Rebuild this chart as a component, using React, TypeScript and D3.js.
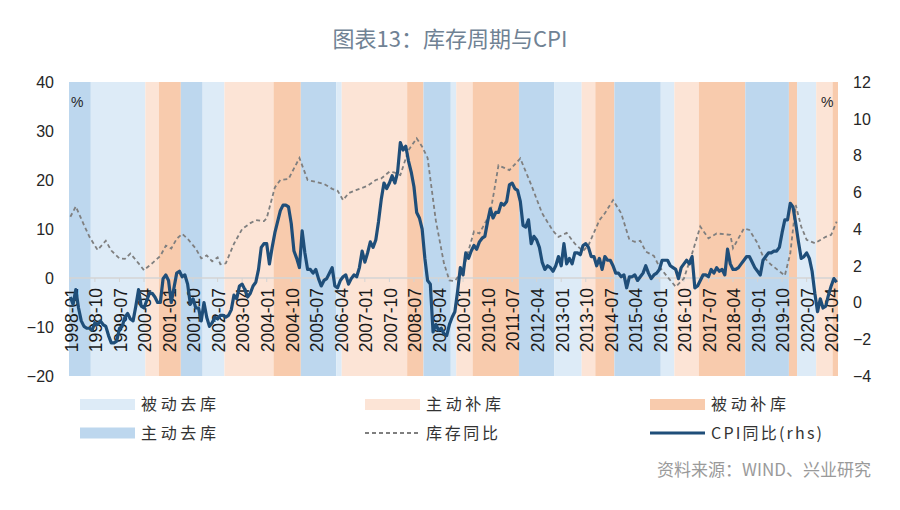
import React, { useRef, useEffect } from "react";
import * as d3 from "d3";

// CPI YoY (%), monthly 1998-01 .. 2021-06 (right axis)
const cpiValues = [
  0.3, -0.1, 0.7, -0.3, -1.0, -1.3, -1.4, -1.4, -1.5, -1.1, -1.2, -1.0,
  -1.2, -1.3, -1.8, -2.2, -2.2, -2.1, -1.4, -1.3, -0.8, -0.6, -0.9, -1.0,
  -0.2, 0.7, -0.2, -0.3, 0.1, 0.5, 0.5, 0.3, 0.0, 0.0, 1.3, 1.5,
  1.2, 0.0, 0.8, 1.6, 1.7, 1.4, 1.5, 1.0, -0.1, 0.2, -0.3, -0.3,
  -1.0, 0.0, -0.8, -1.3, -1.1, -0.8, -0.9, -0.7, -0.7, -0.8, -0.7, -0.4,
  0.4, 0.2, 0.9, 1.0, 0.7, 0.3, 0.5, 0.9, 1.1, 1.8, 3.0, 3.2,
  3.2, 2.1, 3.0, 3.8, 4.4, 5.0, 5.3, 5.3, 5.2, 4.3, 2.8, 2.4,
  1.9, 3.9, 2.7, 1.8, 1.8, 1.6, 1.8, 1.3, 0.9, 1.2, 1.3, 1.6,
  1.9, 0.9, 0.8, 1.2, 1.4, 1.5, 1.0, 1.3, 1.5, 1.4, 1.9, 2.8,
  2.2, 2.7, 3.3, 3.0, 3.4, 4.4, 5.6, 6.5, 6.2, 6.5, 6.9, 6.5,
  7.1, 8.7, 8.3, 8.5, 7.7, 7.1, 6.3, 4.9, 4.6, 4.0, 2.4, 1.2,
  1.0, -1.6, -1.2, -1.5, -1.4, -1.7, -1.8, -1.2, -0.8, -0.5, 0.6, 1.9,
  1.5, 2.7, 2.4, 2.8, 3.1, 2.9, 3.3, 3.5, 3.6, 4.4, 5.1, 4.6,
  4.9, 4.9, 5.4, 5.3, 5.5, 6.4, 6.5, 6.2, 6.1, 5.5, 4.2, 4.1,
  4.5, 3.2, 3.6, 3.4, 3.0, 2.2, 1.8, 2.0, 1.9, 1.7, 2.0, 2.5,
  2.0, 3.2, 2.1, 2.4, 2.1, 2.7, 2.7, 2.6, 3.1, 3.2, 3.0, 2.5,
  2.5, 2.0, 2.4, 1.8, 2.5, 2.3, 2.3, 2.0, 1.6, 1.6, 1.4, 1.5,
  0.8, 1.4, 1.4, 1.5, 1.2, 1.4, 1.6, 2.0, 1.6, 1.3, 1.5, 1.6,
  1.8, 2.3, 2.3, 2.3, 2.0, 1.9, 1.8, 1.3, 1.9, 2.1, 2.3, 2.1,
  2.5, 0.8, 0.9, 1.2, 1.5, 1.5, 1.4, 1.8, 1.6, 1.9, 1.7, 1.8,
  1.5, 2.9, 2.1, 1.8, 1.8, 1.9, 2.1, 2.3, 2.5, 2.5, 2.2, 1.9,
  1.7, 1.5, 2.3, 2.5, 2.7, 2.7, 2.8, 2.8, 3.0, 3.8, 4.5, 4.5,
  5.4, 5.2, 4.3, 3.3, 2.4, 2.5, 2.7, 2.4, 1.7, 0.5, -0.5, 0.2,
  -0.3, -0.2, 0.4, 0.9, 1.3, 1.1,
];

// inventory YoY (%) (left axis)
const invDates = [
  "1998-01", "1998-03", "1998-06", "1998-08", "1998-11", "1999-02", "1999-04", "1999-07", "1999-09", "1999-11",
  "2000-02", "2000-04", "2000-07", "2000-10", "2000-12", "2001-02", "2001-04", "2001-06", "2001-08", "2001-11",
  "2002-01", "2002-03", "2002-05", "2002-07", "2002-08", "2002-10", "2003-01", "2003-04", "2003-07", "2003-09",
  "2003-12", "2004-01", "2004-04", "2004-06", "2004-09", "2005-01", "2005-04", "2005-07", "2005-10", "2006-01",
  "2006-03", "2006-05", "2006-07", "2006-10", "2007-02", "2007-05", "2007-07", "2007-10", "2007-12", "2008-02",
  "2008-05", "2008-08", "2008-10", "2008-12", "2009-03", "2009-06", "2009-08", "2009-10", "2010-01", "2010-05",
  "2010-07", "2010-11", "2011-02", "2011-06", "2011-10", "2012-02", "2012-06", "2012-10", "2012-12", "2013-03",
  "2013-06", "2013-09", "2013-11", "2014-03", "2014-05", "2014-08", "2014-11", "2015-02", "2015-04", "2015-06",
  "2015-08", "2015-11", "2016-01", "2016-04", "2016-07", "2016-10", "2017-01", "2017-04", "2017-07", "2017-10",
  "2018-03", "2018-04", "2018-08", "2018-10", "2019-01", "2019-03", "2019-06", "2019-11", "2020-01", "2020-03",
  "2020-05", "2020-07", "2020-10", "2021-02", "2021-04", "2021-06",
];
const invValues = [
  12.5, 14.6, 10.8, 8.4, 5.7, 7.6, 5.6, 4.0, 3.9, 5.0,
  3.0, 1.6, 3.0, 4.5, 6.6, 6.0, 8.0, 9.0, 8.0, 6.0,
  4.0, 4.6, 3.4, 4.2, 2.8, 3.0, 7.0, 10.0, 11.2, 11.8,
  11.6, 12.2, 18.5, 20.0, 20.2, 24.5, 20.0, 19.6, 19.2, 18.2,
  17.8, 15.9, 17.3, 18.0, 18.8, 20.0, 20.3, 21.7, 21.5, 21.0,
  26.1, 28.5, 26.8, 24.5, 11.8, 3.0, -0.5, -0.6, 1.6, 9.5,
  9.1, 13.2, 23.0, 22.0, 24.4, 19.0, 13.2, 9.6, 8.4, 9.2,
  7.0, 5.5, 6.7, 11.8, 13.2, 15.9, 13.2, 7.8, 7.4, 7.6,
  5.4, 4.5, 2.3, 0.2, -1.8, -0.1, 5.0, 10.5, 8.1, 9.1,
  8.8, 6.1, 10.1, 9.8, 7.1, 4.4, 2.7, 0.5, 5.0, 14.9,
  10.5, 7.8, 7.1, 8.4, 8.8, 11.5,
];

// inventory cycle phases: start month of each phase
const bandStart = [
  "1998-01", "1998-09", "2000-05", "2000-10", "2001-06", "2002-02", "2002-10", "2004-04", "2005-02", "2006-03",
  "2006-05", "2008-05", "2008-11", "2009-09", "2009-11", "2010-05", "2011-10", "2012-11", "2013-09", "2014-02",
  "2014-09", "2016-02", "2016-07", "2017-04", "2018-09", "2020-01", "2020-04", "2020-11", "2021-05",
];
const bandKind = [
  "AD", "PD", "AR", "PR", "AD", "PD", "AR", "PR", "AD", "PD",
  "AR", "PR", "AD", "PD", "AR", "PR", "AD", "PD", "AR", "PR",
  "AD", "PD", "AR", "PR", "AD", "PR", "PD", "AR", "PR",
];
const lastMonth = "2021-06";

const kindColor = { PD: "#DDEBF7", AD: "#BDD7EE", AR: "#FCE4D6", PR: "#F8CBAD" };
const kindName = { PD: "被动去库", AD: "主动去库", AR: "主动补库", PR: "被动补库" };

const leftTicks = [40, 30, 20, 10, 0, -10, -20];
const rightTicks = [12, 10, 8, 6, 4, 2, 0, -2, -4];

const mi = (s) => {
  const [y, m] = s.split("-").map(Number);
  return (y - 1998) * 12 + m - 1;
};
const label = (i) => {
  const y = 1998 + Math.floor(i / 12);
  const m = (i % 12) + 1;
  return `${y}-${m < 10 ? "0" + m : m}`;
};

const Chart = ({ width, height }) => {
  const svgRef = useRef();

  useEffect(() => {
    const svg = d3.select(svgRef.current);
    svg.selectAll("*").remove();

    const N = mi(lastMonth) + 1;
    const left = 69, right = 838, top = 82, bottom = 376;
    const xScale = d3.scaleLinear().domain([-0.5, N - 0.5]).range([left, right]);
    const yLeft = d3.scaleLinear().domain([-20, 40]).range([bottom, top]);
    const yRight = d3.scaleLinear().domain([-4, 12]).range([bottom, top]);
    const numFont = "'Liberation Sans', Arial, sans-serif";
    const cjkFont = "'Noto Sans CJK SC', 'Noto Sans', sans-serif";

    // title
    svg
      .append("text")
      .attr("x", 450)
      .attr("y", 47)
      .attr("text-anchor", "middle")
      .style("font-family", cjkFont)
      .style("font-size", "22px")
      .style("fill", "#708294")
      .text("图表13：库存周期与CPI");

    // phase bands
    bandStart.forEach((s, i) => {
      const a = mi(s);
      const b = i < bandStart.length - 1 ? mi(bandStart[i + 1]) : N;
      svg
        .append("rect")
        .attr("x", xScale(a - 0.5))
        .attr("y", top)
        .attr("width", xScale(b - 0.5) - xScale(a - 0.5))
        .attr("height", bottom - top)
        .attr("fill", kindColor[bandKind[i]]);
    });

    // zero line + ticks
    const y0 = yLeft(0);
    svg
      .append("line")
      .attr("x1", left)
      .attr("x2", right)
      .attr("y1", y0)
      .attr("y2", y0)
      .attr("stroke", "#d4d4d4")
      .attr("stroke-width", 1.5);

    const tickIdx = d3.range(0, N, 9);
    tickIdx.forEach((i) => {
      svg
        .append("line")
        .attr("x1", xScale(i))
        .attr("x2", xScale(i))
        .attr("y1", y0)
        .attr("y2", y0 + 4)
        .attr("stroke", "#d4d4d4");
      svg
        .append("text")
        .attr("transform", `translate(${xScale(i) + 1},${y0 + 10}) rotate(-90)`)
        .attr("text-anchor", "end")
        .attr("dy", "0.36em")
        .style("font-family", numFont)
        .style("font-size", "17.5px")
        .style("fill", "#1a1a1a")
        .text(label(i));
    });

    // left / right axis labels
    leftTicks.forEach((t) => {
      svg
        .append("text")
        .attr("x", 54)
        .attr("y", yLeft(t))
        .attr("dy", "0.36em")
        .attr("text-anchor", "end")
        .style("font-family", numFont)
        .style("font-size", "16px")
        .style("fill", "#262626")
        .text(d3.format("")(t));
    });
    rightTicks.forEach((t) => {
      svg
        .append("text")
        .attr("x", 853)
        .attr("y", yRight(t))
        .attr("dy", "0.36em")
        .attr("text-anchor", "start")
        .style("font-family", numFont)
        .style("font-size", "16px")
        .style("fill", "#262626")
        .text(d3.format("")(t));
    });

    // inventory yoy, dashed
    const invLine = d3
      .line()
      .x((d) => xScale(d[0]))
      .y((d) => yLeft(d[1]));
    svg
      .append("path")
      .datum(invDates.map((s, i) => [mi(s), invValues[i]]))
      .attr("fill", "none")
      .attr("stroke", "#7f7f7f")
      .attr("stroke-width", 1.8)
      .attr("stroke-dasharray", "4,3")
      .attr("d", invLine);

    // cpi yoy
    const cpiLine = d3
      .line()
      .x((d, i) => xScale(i))
      .y((d) => yRight(d));
    svg
      .append("path")
      .datum(cpiValues)
      .attr("fill", "none")
      .attr("stroke", "#1F4E79")
      .attr("stroke-width", 3.2)
      .attr("stroke-linejoin", "round")
      .attr("d", cpiLine);

    // % units
    svg.append("text").attr("x", 71).attr("y", 107).style("font-family", numFont).style("font-size", "14px").style("fill", "#262626").text("%");
    svg.append("text").attr("x", 821).attr("y", 107).style("font-family", numFont).style("font-size", "14px").style("fill", "#262626").text("%");

    // legend
    const colX = [80, 365, 650];
    const rowY = [404.5, 433];
    const legend = [
      { kind: "PD", col: 0, row: 0 },
      { kind: "AR", col: 1, row: 0 },
      { kind: "PR", col: 2, row: 0 },
      { kind: "AD", col: 0, row: 1 },
      { kind: "inv", col: 1, row: 1 },
      { kind: "cpi", col: 2, row: 1 },
    ];
    legend.forEach((d) => {
      const lx = colX[d.col];
      const ly = rowY[d.row];
      let name, len;
      if (d.kind === "inv") {
        svg.append("line").attr("x1", lx).attr("x2", lx + 55).attr("y1", ly).attr("y2", ly)
          .attr("stroke", "#7f7f7f").attr("stroke-width", 1.8).attr("stroke-dasharray", "4,3");
        name = "库存同比";
        len = 72;
      } else if (d.kind === "cpi") {
        svg.append("line").attr("x1", lx).attr("x2", lx + 55).attr("y1", ly).attr("y2", ly)
          .attr("stroke", "#1F4E79").attr("stroke-width", 3);
        name = "CPI同比(rhs)";
        len = 111;
      } else {
        svg.append("rect").attr("x", lx).attr("y", ly - 5.5).attr("width", 55).attr("height", 11)
          .attr("fill", kindColor[d.kind]);
        name = kindName[d.kind];
        len = 75;
      }
      svg
        .append("text")
        .attr("x", lx + 61)
        .attr("y", ly)
        .attr("dy", "0.36em")
        .attr("textLength", len)
        .attr("lengthAdjust", "spacing")
        .style("font-family", cjkFont)
        .style("font-size", "16px")
        .style("fill", "#333333")
        .text(name);
    });

    // source
    svg
      .append("text")
      .attr("x", 871)
      .attr("y", 476)
      .attr("text-anchor", "end")
      .style("font-family", cjkFont)
      .style("font-size", "17px")
      .style("fill", "#9a9a9a")
      .text("资料来源：WIND、兴业研究");
  }, [width, height]);

  return <svg ref={svgRef} width={width} height={height} style={{ position: "absolute", left: 0, top: 0, background: "#fff" }} />;
};

export default function App() {
  return <Chart width={900} height={510} />;
}
